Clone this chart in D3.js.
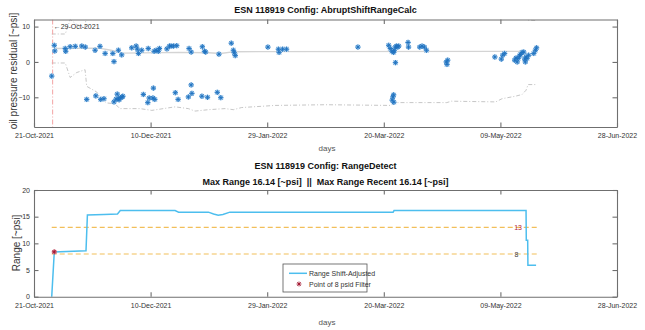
<!DOCTYPE html>
<html>
<head>
<meta charset="utf-8">
<script src="https://cdn.jsdelivr.net/npm/d3@7"></script>
<style>
body { margin: 0; background: #fff; }
text { font-family: "Liberation Sans Narrow", "Arial Narrow", "Liberation Sans", sans-serif; }
</style>
</head>
<body>
<div id="chart"></div>
<script>
"use strict";

// days are counted from 21-Oct-2021
var startDate = new Date(2021, 9, 21);
var endDate = new Date(2022, 5, 28);
var tickDates = ["2021-10-21", "2021-12-10", "2022-01-29", "2022-03-20", "2022-05-09", "2022-06-28"];
var markerDate = "2021-10-29";

// top panel: residual points
var residDays = [7.6, 8.7, 8.9, 13.4, 13.6, 15.5, 17.7, 20.5, 22.0, 22.6, 26.2, 26.5, 28.3, 28.6, 30.0,
    30.5, 33.8, 34.3, 34.3, 35.2, 35.7, 36.2, 36.2, 36.5, 37.2, 37.6, 37.8, 38.1, 41.9, 43.8, 44.3,
    44.8, 46.2, 46.9, 48.8, 49.0, 49.4, 51.0, 51.2, 51.5, 51.8, 52.4, 53.3, 53.8, 57.0, 58.1, 58.8,
    59.8, 60.6, 61.2, 61.8, 66.2, 66.5, 67.4, 67.4, 67.7, 72.0, 72.2, 73.1, 73.6, 74.4, 78.6, 79.3,
    80.1, 84.6, 85.5, 85.9, 86.3, 100.3, 104.8, 105.1, 106.6, 108.3, 138.9, 152.1, 152.8, 153.5,
    153.6, 153.9, 154.2, 154.2, 154.3, 154.5, 155.0, 155.0, 155.4, 156.0, 156.4, 160.4, 160.6, 165.4,
    166.4, 167.4, 168.3, 176.8, 177.1, 177.4, 197.6, 200.4, 201.0, 201.8, 206.1, 206.7, 207.2, 207.6,
    208.2, 208.6, 209.3, 210.0, 210.4, 210.7, 211.0, 211.4, 212.1, 214.3, 215.0, 215.5];
var residVals = [-4.0, 4.7, 3.1, 3.8, 3.0, 4.3, 4.4, 4.5, 4.2, -10.6, 3.3, -9.6, 4.4, -10.6, -10.4,
    2.4, 2.4, 0.1, -11.3, -10.5, -9.1, 3.3, -10.4, -10.7, -10.1, 2.0, -9.9, -9.7, 4.0, 4.5, 3.6,
    2.4, 3.3, -9.2, -11.5, 3.8, -10.2, -10.2, -7.4, 3.0, -10.6, 3.3, 3.0, 3.8, 3.7, 4.5, 4.5,
    4.5, -8.7, 4.6, -10.6, -9.9, 3.8, 2.8, -6.5, -8.9, -9.7, 4.3, 3.0, 2.8, -10.0, -8.6, 2.2,
    -10.1, 5.3, 3.3, 2.6, 1.8, 4.2, 3.6, 2.7, 3.6, 3.6, 4.2, 4.7, 3.8, 3.0,
    -10.8, -9.9, 2.7, -9.3, -11.4, 3.3, 4.2, -0.2, 4.5, 4.2, 4.5, 5.5, 4.2, 4.2,
    4.5, 4.2, 3.3, 0.0, -0.7, 0.5, 1.4, 0.8, 1.9, 2.4, 0.5, 1.1, 0.0, 1.0,
    1.7, 2.1, 2.7, 2.8, 0.8, 0.0, 1.4, 1.0, 1.9, 2.4, 3.3, 4.0];

// top panel: center line and the two dash-dot bounds
var centerDays = [8.7, 28, 33, 38, 62, 75, 80, 86, 209];
var centerVals = [3.8, 3.9, 3.3, 2.5, 2.7, 2.6, 2.4, 2.9, 3.0];
var lowDays = [7.6, 13.4, 15.5, 18.3, 21.9, 22.6, 26.9, 28.3, 31.1, 34.7, 36.8, 45.5, 50.5, 55.5, 60.5,
    66.2, 69, 74.9, 81.9, 85.5, 89, 103.4, 125, 152.8, 155.7, 177, 179, 198, 200.7, 206.4, 209.3,
    211.0, 211.9, 215.5];
var lowVals = [-0.3, -0.3, -4.4, -3.0, -2.2, -6.9, -8.5, -9.9, -11.6, -11.8, -13.2, -13.2, -13.7, -13.2, -12.7,
    -13.2, -13.9, -13.5, -13.2, -13.5, -12.9, -12.3, -12.1, -12.3, -11.5, -11.5, -11.1, -11.3, -10.4, -9.7, -9.2,
    -8.0, -6.4, -6.4];
var upDays = [7.6, 13.4, 15.5, 18.3, 21.9, 22.6, 211.0, 211.9, 215.5];
var upVals = [7.9, 7.9, 12.0, 10.6, 9.8, 14.5, 14.0, 11.8, 11.7];

// bottom panel: range shift-adjusted
var rangeDays = [7.6, 8.7, 22.3, 22.9, 30, 35.8, 37, 60.5, 62, 74.8, 77, 79, 81, 84, 154, 154.4, 211.0, 211.1, 211.7, 211.8, 215.3];
var rangeVals = [0, 8.4, 8.6, 15.3, 15.4, 15.5, 16.14, 16.14, 15.85, 15.85, 15.5, 15.25, 15.4, 15.85, 15.85, 16.14, 16.14, 10.6, 10.6, 5.9, 5.9];
var filterDay = 8.7, filterVal = 8.4;
var thresholds = [13, 8];
var thresholdDays = [7.6, 215.7];

var W = 645, H = 330;
var svg = d3.select("#chart").append("svg").attr("width", W).attr("height", H);
svg.append("rect").attr("width", W).attr("height", H).attr("fill", "#fff");

function dayToDate(d) {
    return new Date(startDate.getTime() + d * 86400000);
}
var parse = d3.timeParse("%Y-%m-%d");
var fmt = d3.timeFormat("%d-%b-%Y");

var x = d3.scaleTime().domain([startDate, endDate]).range([34, 617]);
var yTop = d3.scaleLinear().domain([-18.4, 12]).range([127, 19.5]);
var yBot = d3.scaleLinear().domain([0, 20]).range([296.7, 190]);

var axisColor = "#6f6f6f";

function styleAxis(g) {
    g.select(".domain").attr("stroke", axisColor).attr("stroke-width", 1.1);
    g.selectAll(".tick line").attr("stroke", axisColor).attr("stroke-width", 1.1);
    g.selectAll(".tick text").attr("font-size", "7px").attr("fill", "#333");
}

function drawFrame(y, yTicks, top, bottom) {
    var xt = tickDates.map(parse);
    svg.append("g").attr("transform", "translate(0," + bottom + ")")
        .call(d3.axisBottom(x).tickValues(xt).tickFormat(fmt).tickSizeInner(-4.5).tickSizeOuter(0).tickPadding(6))
        .call(styleAxis);
    svg.append("g").attr("transform", "translate(0," + top + ")")
        .call(d3.axisTop(x).tickValues(xt).tickFormat("").tickSizeInner(-4.5).tickSizeOuter(0))
        .call(styleAxis);
    svg.append("g").attr("transform", "translate(34,0)")
        .call(d3.axisLeft(y).tickValues(yTicks).tickSizeInner(-4.5).tickSizeOuter(0).tickPadding(4))
        .call(styleAxis);
    svg.append("g").attr("transform", "translate(617,0)")
        .call(d3.axisRight(y).tickValues(yTicks).tickFormat("").tickSizeInner(-4.5).tickSizeOuter(0))
        .call(styleAxis);
}

// 8-arm asterisk like the MATLAB '*' marker
var asterisk = {
    draw: function (ctx, size) {
        var r = Math.sqrt(size) / 2, d = r * 0.72;
        ctx.moveTo(-r, 0); ctx.lineTo(r, 0);
        ctx.moveTo(0, -r); ctx.lineTo(0, r);
        ctx.moveTo(-d, -d); ctx.lineTo(d, d);
        ctx.moveTo(-d, d); ctx.lineTo(d, -d);
    }
};

// ---------- top panel ----------
svg.append("clipPath").attr("id", "clipTop").append("rect")
    .attr("x", 34).attr("y", 19.5).attr("width", 583).attr("height", 107.5);

var topLayer = svg.append("g").attr("clip-path", "url(#clipTop)");

function lineFrom(days, vals, y) {
    return d3.line().x(function (d) { return x(dayToDate(d[0])); }).y(function (d) { return y(d[1]); })(d3.zip(days, vals));
}

topLayer.append("path").attr("d", lineFrom(centerDays, centerVals, yTop))
    .attr("fill", "none").attr("stroke", "#d4d4d4").attr("stroke-width", 1.4);
topLayer.append("path").attr("d", lineFrom(lowDays, lowVals, yTop))
    .attr("fill", "none").attr("stroke", "#b8b8b8").attr("stroke-width", 0.8).attr("stroke-dasharray", "4,2,1,2");
topLayer.append("path").attr("d", lineFrom(upDays, upVals, yTop))
    .attr("fill", "none").attr("stroke", "#b8b8b8").attr("stroke-width", 0.8).attr("stroke-dasharray", "4,2,1,2");

var mx = x(parse(markerDate));
topLayer.append("line").attr("x1", mx).attr("x2", mx).attr("y1", 19.5).attr("y2", 127)
    .attr("stroke", "#f3a3a3").attr("stroke-width", 1).attr("stroke-dasharray", "5,2,1,2");

var sym = d3.symbol().type(asterisk).size(28);
var pts = d3.zip(residDays, residVals);
topLayer.append("g").selectAll("path").data(pts).enter().append("path")
    .attr("transform", function (d) { return "translate(" + x(dayToDate(d[0])) + "," + yTop(d[1]) + ")"; })
    .attr("d", sym).attr("fill", "none").attr("stroke", "#b3d5f1").attr("stroke-width", 1.8);
topLayer.append("g").selectAll("path").data(pts).enter().append("path")
    .attr("transform", function (d) { return "translate(" + x(dayToDate(d[0])) + "," + yTop(d[1]) + ")"; })
    .attr("d", sym).attr("fill", "none").attr("stroke", "#1f72c0").attr("stroke-width", 0.9);

svg.append("text").attr("x", mx + 1).attr("y", 29).attr("font-size", "7px").attr("fill", "#333")
    .text("\u2190" + fmt(parse(markerDate)));

drawFrame(yTop, [-10, 0, 10], 19.5, 127);

svg.append("text").attr("x", 325.5).attr("y", 13).attr("text-anchor", "middle")
    .attr("font-size", "9px").attr("font-weight", "bold").attr("fill", "#111")
    .text("ESN 118919 Config: AbruptShiftRangeCalc");
svg.append("text").attr("x", 327).attr("y", 151).attr("text-anchor", "middle")
    .attr("font-size", "8px").attr("fill", "#555").text("days");
svg.append("text").attr("transform", "translate(17,71) rotate(-90)").attr("text-anchor", "middle")
    .attr("font-family", "Liberation Sans, Arial, sans-serif").attr("font-size", "10px").attr("fill", "#333")
    .text("oil pressure residual [~psi]");

// ---------- bottom panel ----------
var botLayer = svg.append("g");
thresholds.forEach(function (t) {
    botLayer.append("line")
        .attr("x1", x(dayToDate(thresholdDays[0]))).attr("x2", x(dayToDate(thresholdDays[1])))
        .attr("y1", yBot(t)).attr("y2", yBot(t))
        .attr("stroke", "#f2bf5a").attr("stroke-width", 1.1).attr("stroke-dasharray", "5,3");
});
botLayer.append("text").attr("x", 522).attr("y", yBot(13) + 2.5).attr("text-anchor", "end")
    .attr("font-size", "7px").attr("fill", "#b0283c").text("13");
botLayer.append("text").attr("x", 518.5).attr("y", yBot(8) + 2.5).attr("text-anchor", "end")
    .attr("font-size", "7px").attr("fill", "#444").text("8");

botLayer.append("path").attr("d", lineFrom(rangeDays, rangeVals, yBot))
    .attr("fill", "none").attr("stroke", "#4dbeee").attr("stroke-width", 1.5);

var redSym = d3.symbol().type(asterisk).size(24);
botLayer.append("path").attr("transform", "translate(" + x(dayToDate(filterDay)) + "," + yBot(filterVal) + ")")
    .attr("d", redSym).attr("fill", "none").attr("stroke", "#e7a0ad").attr("stroke-width", 2);
botLayer.append("path").attr("transform", "translate(" + x(dayToDate(filterDay)) + "," + yBot(filterVal) + ")")
    .attr("d", redSym).attr("fill", "none").attr("stroke", "#a2142f").attr("stroke-width", 0.9);

drawFrame(yBot, [0, 5, 10, 15, 20], 190, 296.7);

svg.append("text").attr("x", 325.5).attr("y", 169).attr("text-anchor", "middle")
    .attr("font-size", "9px").attr("font-weight", "bold").attr("fill", "#111")
    .text("ESN 118919 Config: RangeDetect");
svg.append("text").attr("x", 325.5).attr("y", 184.5).attr("text-anchor", "middle")
    .attr("font-size", "9px").attr("font-weight", "bold").attr("fill", "#111")
    .text("Max Range 16.14 [~psi]  ||  Max Range Recent 16.14 [~psi]")
    .style("white-space", "pre");
svg.append("text").attr("x", 327).attr("y", 325).attr("text-anchor", "middle")
    .attr("font-size", "8px").attr("fill", "#555").text("days");
svg.append("text").attr("transform", "translate(20,243) rotate(-90)").attr("text-anchor", "middle")
    .attr("font-family", "Liberation Sans, Arial, sans-serif").attr("font-size", "10px").attr("fill", "#333")
    .text("Range [~psi]");

// legend
var lg = svg.append("g").attr("transform", "translate(283,264)");
lg.append("rect").attr("width", 84).attr("height", 28).attr("fill", "#fff")
    .attr("stroke", "#555").attr("stroke-width", 0.8);
lg.append("line").attr("x1", 6).attr("x2", 24).attr("y1", 9.3).attr("y2", 9.3)
    .attr("stroke", "#4dbeee").attr("stroke-width", 1.5);
lg.append("text").attr("x", 26).attr("y", 11.8).attr("font-size", "7px").attr("fill", "#333").text("Range Shift-Adjusted");
lg.append("path").attr("transform", "translate(16,20)").attr("d", redSym)
    .attr("fill", "none").attr("stroke", "#a2142f").attr("stroke-width", 0.9);
lg.append("text").attr("x", 26).attr("y", 22.5).attr("font-size", "7px").attr("fill", "#333").text("Point of 8 psid Filter");
</script>
</body>
</html>
